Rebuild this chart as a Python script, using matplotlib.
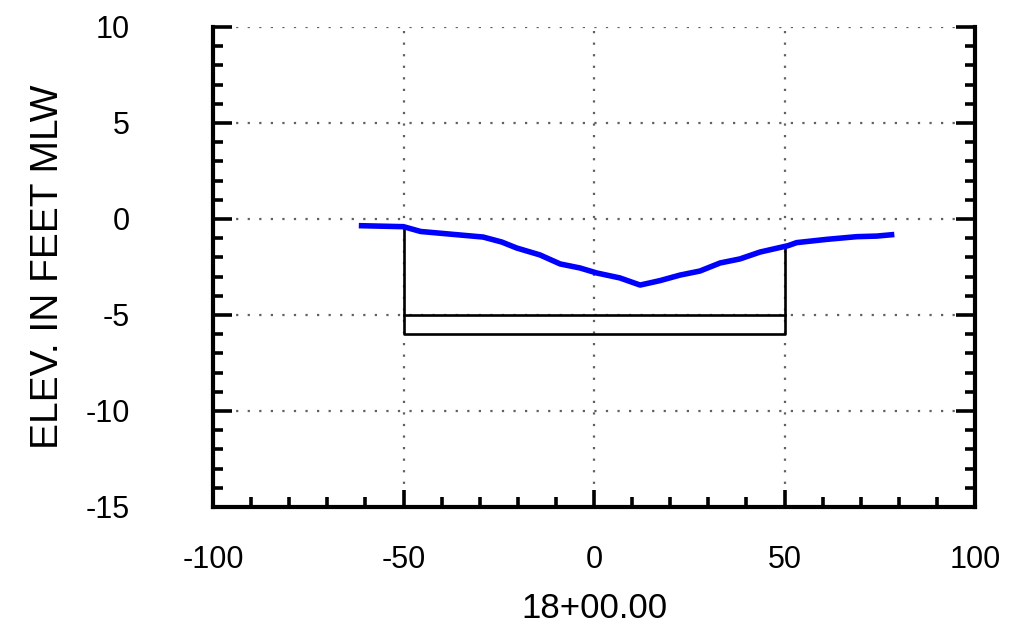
import matplotlib
matplotlib.use("Agg")
import matplotlib.pyplot as plt
from matplotlib.ticker import MultipleLocator

plt.rcParams['font.family'] = ['Liberation Sans', 'DejaVu Sans']

# Surveyed profile (station offset ft, elevation ft MLW)
profile_x = [-61, -50, -45.5, -29.1, -24.2, -20.3, -14.2, -8.9, -3.7, 0.7, 6.8, 12.1,
             17.3, 22.6, 27.8, 33.1, 38.3, 43.6, 50.9, 53.2, 61.1, 69.0, 74.2, 78.1]
profile_y = [-0.35, -0.40, -0.65, -0.94, -1.20, -1.51, -1.87, -2.34, -2.55, -2.81, -3.07, -3.44,
             -3.21, -2.92, -2.71, -2.29, -2.08, -1.72, -1.39, -1.23, -1.06, -0.92, -0.89, -0.82]

# Channel template (overdepth box) and design depth line
template_x = [-50, -50, 50, 50]
template_y = [-0.40, -6, -6, -1.37]
design_x = [-50, 50]
design_y = [-5, -5]

x_ticks = [-100, -50, 0, 50, 100]
y_ticks = [-15, -10, -5, 0, 5, 10]

fig = plt.figure(figsize=(10.09, 6.41), dpi=100)
ax = fig.add_axes([213/1009, 1 - 507/641, (975-213)/1009, (507-27)/641])

ax.plot(template_x, template_y, color='black', lw=1.9, zorder=3)
ax.plot(design_x, design_y, color='black', lw=1.9, zorder=3)
ax.plot(profile_x, profile_y, color='#0000ff', lw=4.0, zorder=4, solid_joinstyle='round')

ax.set_xlim(-100, 100)
ax.set_ylim(-15, 10)
ax.set_xticks(x_ticks)
ax.set_yticks(y_ticks)
ax.set_xticklabels([str(v) for v in x_ticks], fontsize=22)
ax.set_yticklabels([str(v) for v in y_ticks], fontsize=22)
ax.xaxis.set_minor_locator(MultipleLocator(10))
ax.yaxis.set_minor_locator(MultipleLocator(1))

ax.grid(True, which='major', color='#606060', lw=1.6, linestyle=(0, (1, 4.2)))

ax.spines['top'].set_visible(False)
for s in ('left', 'right', 'bottom'):
    ax.spines[s].set_linewidth(3)

ax.tick_params(axis='y', which='both', direction='in', left=True, right=True, width=2.6)
ax.tick_params(axis='y', which='major', length=14, pad=60)
ax.tick_params(axis='y', which='minor', length=7.5)
ax.tick_params(axis='x', which='both', direction='in', bottom=True, top=False, width=2.6)
ax.tick_params(axis='x', which='major', length=12.5, pad=27)
ax.tick_params(axis='x', which='minor', length=7.5)

ax.set_xlabel('18+00.00', fontsize=25)
ax.xaxis.set_label_coords(0.5, (507 - 608) / 480)
ax.xaxis.label.set_va('center')
ax.set_ylabel('ELEV. IN FEET MLW', fontsize=28)
ax.yaxis.set_label_coords((48 - 213) / 762, 0.5)
ax.yaxis.label.set_va('center')

fig.savefig('out.png', dpi=100)
